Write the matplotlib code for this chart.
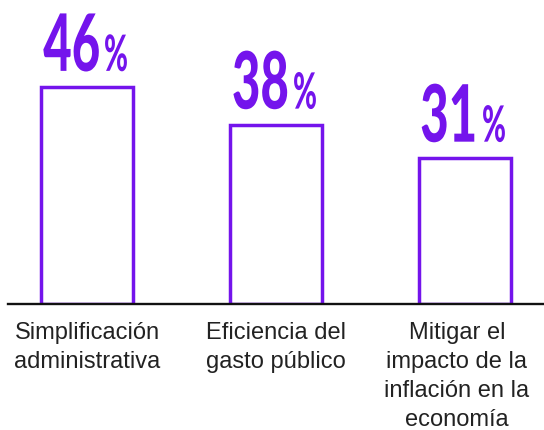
import matplotlib
matplotlib.use('Agg')
import matplotlib.pyplot as plt
from matplotlib.patheffects import AbstractPathEffect
from matplotlib.transforms import Affine2D

categories = ['Simplificación\nadministrativa',
              'Eficiencia del\ngasto público',
              'Mitigar el\nimpacto de la\ninflación en la\neconomía']
values = [46, 38, 31]

PURPLE = '#7414EC'
TEXT = '#222222'
PX = 0.72  # points per pixel at dpi 100


class Squeeze(AbstractPathEffect):
    """Narrow the glyphs horizontally, keeping one edge in place."""

    def __init__(self, sx, edge='left'):
        super().__init__()
        self.sx = sx
        self.edge = edge

    def draw_path(self, renderer, gc, tpath, affine, rgbFace=None):
        xs = affine.transform(tpath.vertices)[:, 0]
        x0 = xs.max() if self.edge == 'right' else xs.min()
        squeeze = Affine2D().translate(-x0, 0).scale(self.sx, 1).translate(x0, 0)
        renderer.draw_path(gc, tpath, affine + squeeze, rgbFace)


fig = plt.figure(figsize=(5.44, 4.31), dpi=100)
ax = fig.add_axes([8 / 544, 126 / 431, 536 / 544, 305 / 431])

x = range(len(values))
ax.bar(x, values, width=0.49, facecolor='white', edgecolor=PURPLE,
       linewidth=2.5, zorder=2)
ax.set_xlim(-0.418, 2.418)
ax.set_ylim(0, 305 / 4.72)

for s in ['top', 'left', 'right']:
    ax.spines[s].set_visible(False)
ax.spines['bottom'].set_color('#111111')
ax.spines['bottom'].set_linewidth(1.7)
ax.spines['bottom'].set_zorder(3)
ax.set_xticks([])
ax.set_yticks([])

num_font = ['Lato', 'Liberation Sans', 'DejaVu Sans']
for i, v in enumerate(values):
    ax.annotate(str(v), xy=(i, v), xytext=(14 * PX, 16 * PX),
                textcoords='offset points', ha='right', va='baseline',
                fontsize=57, fontweight='black', color=PURPLE,
                family=num_font, path_effects=[Squeeze(0.62, 'right')])
    ax.annotate('%', xy=(i, v), xytext=(17 * PX, 16 * PX),
                textcoords='offset points', ha='left', va='baseline',
                fontsize=36, fontweight='black', color=PURPLE,
                family=num_font, path_effects=[Squeeze(0.58, 'left')])

label_dx = [0, 0, -8]
for i, lab in enumerate(categories):
    ax.annotate(lab, xy=(i, 0), xytext=(label_dx[i] * PX, -17 * PX),
                textcoords='offset points', ha='center', va='top',
                multialignment='center', fontsize=17, color=TEXT,
                family=['Liberation Sans', 'DejaVu Sans'],
                linespacing=1.42, annotation_clip=False)

fig.savefig('out.png', dpi=100)
